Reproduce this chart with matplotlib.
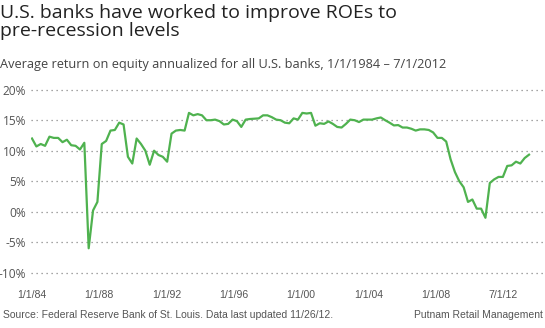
import numpy as np
import matplotlib
matplotlib.use("Agg")
import matplotlib.pyplot as plt

# quarterly ROE (%) for all U.S. banks, 1984 Q1 - 2012 Q3
roe = [12.0, 10.7, 11.1, 10.8, 12.3, 12.1, 12.1, 11.4, 11.8, 10.9,
       10.8, 10.2, 11.3, -6.0, 0.2, 1.6, 11.1, 11.6, 13.3, 13.4,
       14.6, 14.3, 9.0, 7.9, 12.0, 11.1, 10.0, 7.7, 10.0, 9.3,
       9.0, 8.2, 12.8, 13.3, 13.4, 13.3, 16.2, 15.8, 16.0, 15.8,
       15.0, 15.0, 15.1, 14.85, 14.3, 14.4, 15.1, 14.85, 13.9, 15.1,
       15.2, 15.25, 15.3, 15.8, 15.8, 15.5, 15.1, 15.0, 14.6, 14.5,
       15.3, 15.1, 16.2, 16.1, 16.2, 14.1, 14.5, 14.4, 14.8, 14.4,
       13.9, 13.8, 14.4, 15.1, 15.0, 14.7, 15.1, 15.1, 15.1, 15.3,
       15.45, 15.0, 14.6, 14.15, 14.2, 13.8, 13.8, 13.6, 13.3, 13.5,
       13.5, 13.4, 13.0, 12.1, 12.1, 11.5, 8.6, 6.5, 5.0, 4.0,
       1.6, 2.0, 0.5, 0.5, -1.0, 4.7, 5.3, 5.7, 5.7, 7.5,
       7.6, 8.2, 7.9, 8.8, 9.35]
quarter = np.arange(len(roe))

x_labels = ["1/1/84", "1/1/88", "1/1/92", "1/1/96", "1/1/00", "1/1/04", "1/1/08", "7/1/12"]
y_ticks = [-10, -5, 0, 5, 10, 15, 20]
y_labels = ["-10%", "-5%", "0%", "5%", "10%", "15%", "20%"]

W, H = 545, 328
fig = plt.figure(figsize=(W / 100, H / 100), dpi=100)

# axes placement in pixels
left, right, top, bottom = 31, 545, 87.9, 274.5
ax = fig.add_axes([left / W, 1 - bottom / H, (right - left) / W, (bottom - top) / H])

ax.plot(quarter, roe, color="#4fb24f", lw=1.6, solid_joinstyle="round")

ax.set_xlim(-0.23, 117.66)
ax.set_ylim(-10.3, 20.3)

for v in y_ticks:
    ax.axhline(v, color="#888888", lw=0.9, ls=(0, (1, 3)), zorder=0)

ax.set_yticks(y_ticks)
ax.set_yticklabels(y_labels, family="Open Sans", fontsize=8.6, color="#555555")
ax.set_xticks(np.linspace(0, 108, 8))
ax.set_xticklabels(x_labels, family="Liberation Sans", fontsize=7.6, color="#555555")
ax.tick_params(axis="y", length=0, pad=3.5)
ax.tick_params(axis="x", length=0, pad=11)
for s in ax.spines.values():
    s.set_visible(False)

fig.text(0 / W, 1 - 18.3 / H, "U.S. banks have worked to improve ROEs to",
         family="Open Sans", fontsize=14, color="#222222", va="baseline", ha="left")
fig.text(0 / W, 1 - 36 / H, "pre-recession levels",
         family="Open Sans", fontsize=14, color="#222222", va="baseline", ha="left")
fig.text(0 / W, 1 - 67.7 / H,
         "Average return on equity annualized for all U.S. banks, 1/1/1984 \u2013 7/1/2012",
         family="Open Sans", fontsize=9.15, color="#444444", va="baseline", ha="left")
fig.text(3 / W, 1 - 315 / H,
         "Source: Federal Reserve Bank of St. Louis. Data last updated 11/26/12.",
         family="Liberation Sans", fontsize=7.5, color="#555555", va="center", ha="left")
fig.text(543 / W, 1 - 315 / H, "Putnam Retail Management",
         family="Liberation Sans", fontsize=7.5, color="#555555", va="center", ha="right")

fig.savefig("out.png", dpi=100)
